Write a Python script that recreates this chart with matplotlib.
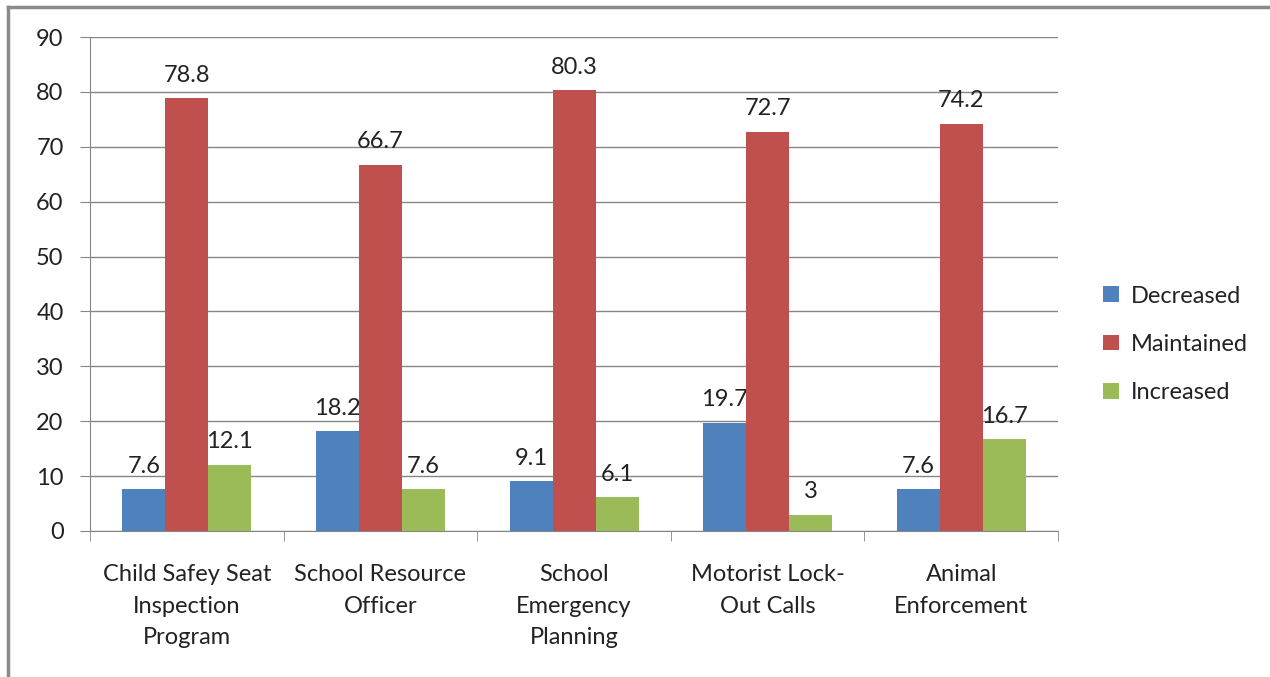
import matplotlib
matplotlib.use("Agg")
import matplotlib.pyplot as plt
from matplotlib.lines import Line2D
import numpy as np

categories = ["Child Safey Seat\nInspection\nProgram", "School Resource\nOfficer",
              "School\nEmergency\nPlanning", "Motorist Lock-\nOut Calls",
              "Animal\nEnforcement"]
series_names = ["Decreased", "Maintained", "Increased"]
decreased = [7.6, 18.2, 9.1, 19.7, 7.6]
maintained = [78.8, 66.7, 80.3, 72.7, 74.2]
increased = [12.1, 7.6, 6.1, 3, 16.7]
colors = ["#4F81BD", "#C0504D", "#9BBB59"]
yticks = [0, 10, 20, 30, 40, 50, 60, 70, 80, 90]

plt.rcParams["font.family"] = ["Lato", "DejaVu Sans"]
GRID = "#868686"
FS = 17

fig = plt.figure(figsize=(12.7, 6.77), dpi=100)
ax = fig.add_axes([0.0709, 0.2157, 0.7622, 0.7296])

x = np.arange(len(categories))
w = 1 / 4.5
for i, (vals, name, col) in enumerate(zip([decreased, maintained, increased],
                                          series_names, colors)):
    pos = x + (i - 1) * w
    bars = ax.bar(pos, vals, width=w, color=col, label=name, zorder=3)
    for b, v in zip(bars, vals):
        ax.annotate(f"{v:g}", (b.get_x() + b.get_width() / 2, v),
                    xytext=(0, 9), textcoords="offset points",
                    ha="center", va="bottom", fontsize=FS, color="#222222")

ax.set_xlim(-0.5, len(categories) - 0.5)
ax.set_ylim(0, 90)
ax.set_yticks(yticks)
ax.tick_params(axis="y", length=7, color=GRID, labelsize=FS, pad=12,
               labelcolor="#222222")
ax.yaxis.grid(True, color=GRID, lw=1, zorder=0)

# category labels centred, tick marks at the category boundaries
ax.set_xticks(x)
ax.set_xticklabels(categories, fontsize=FS, color="#222222", linespacing=1.62)
ax.tick_params(axis="x", length=0, pad=24)
ax.set_xticks(np.arange(len(categories) + 1) - 0.5, minor=True)
ax.tick_params(axis="x", which="minor", length=7, color=GRID)

for s in ["top", "right"]:
    ax.spines[s].set_visible(False)
for s in ["left", "bottom"]:
    ax.spines[s].set_color(GRID)

ax.legend(loc="center left", bbox_to_anchor=(1.025, 0.378), frameon=False,
          fontsize=FS, handlelength=0.65, handleheight=0.65, handletextpad=0.5,
          labelspacing=1.15, labelcolor="#222222")

# outer chart frame (only left and top edges visible)
fig.add_artist(Line2D([0.0063, 0.0063], [0, 0.9897], color="#8a8a8a", lw=2.5,
                      transform=fig.transFigure))
fig.add_artist(Line2D([0.0063, 1], [0.9897, 0.9897], color="#8a8a8a", lw=2.5,
                      transform=fig.transFigure))

fig.savefig("out.png", dpi=100)
